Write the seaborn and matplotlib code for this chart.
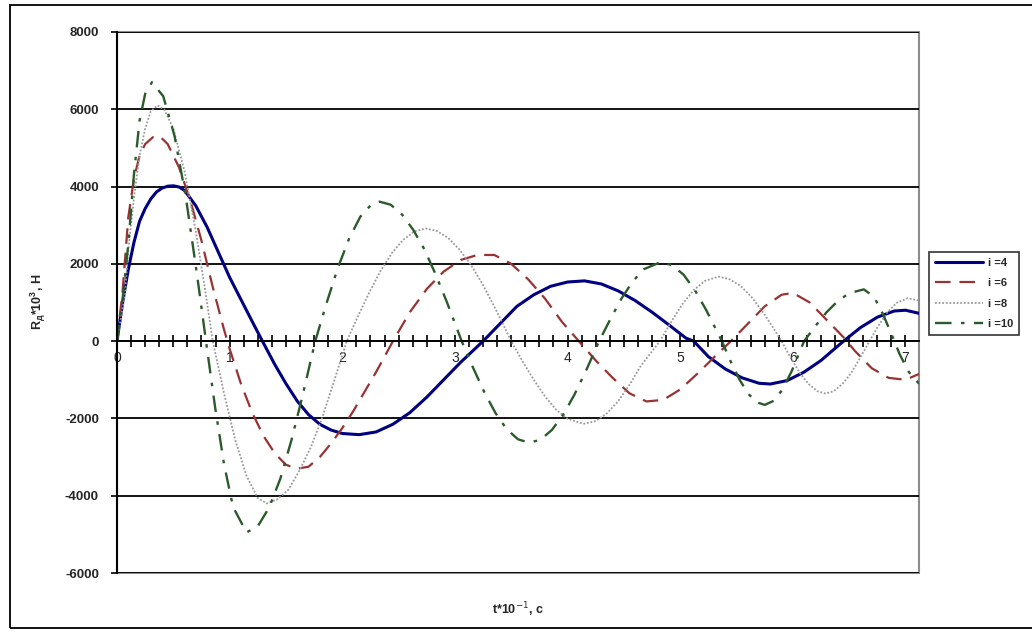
import matplotlib
matplotlib.use("Agg")
import matplotlib.pyplot as plt
from matplotlib.patches import Rectangle
from matplotlib.ticker import MultipleLocator, NullFormatter
import pandas as pd
import seaborn as sns

# values
t4 = [0.00, 0.05, 0.10, 0.15, 0.20, 0.25, 0.30, 0.35, 0.40, 0.45, 0.50, 0.55, 0.60, 0.70, 0.80,
      0.90, 1.00, 1.10, 1.20, 1.30, 1.40, 1.50, 1.60, 1.70, 1.80, 1.90, 2.00, 2.15, 2.30, 2.45,
      2.60, 2.75, 2.90, 3.05, 3.25, 3.40, 3.55, 3.70, 3.85, 4.00, 4.15, 4.30, 4.45, 4.60, 4.75,
      4.90, 5.05, 5.12, 5.25, 5.40, 5.55, 5.70, 5.80, 5.95, 6.10, 6.25, 6.45, 6.60, 6.75, 6.90,
      7.00, 7.12]
r4 = [0, 1000, 1850, 2550, 3100, 3430, 3680, 3860, 3960, 4010, 4020, 3990, 3900, 3500, 2950,
      2300, 1650, 1080, 510, -50, -600, -1100, -1550, -1900, -2150, -2300, -2390, -2420, -2350, -2150,
      -1850, -1450, -1000, -550, 0, 450, 900, 1200, 1420, 1530, 1560, 1480, 1300, 1050, 750,
      420, 80, 0, -400, -720, -950, -1090, -1110, -1020, -800, -500, 0, 350, 620, 780,
      800, 720]

t6 = [0.00, 0.05, 0.10, 0.15, 0.20, 0.25, 0.32, 0.38, 0.45, 0.55, 0.65, 0.75, 0.85, 0.95, 1.00,
      1.10, 1.20, 1.30, 1.40, 1.50, 1.60, 1.70, 1.80, 1.90, 2.00, 2.10, 2.20, 2.30, 2.45, 2.60,
      2.75, 2.90, 3.05, 3.20, 3.35, 3.50, 3.65, 3.80, 3.95, 4.10, 4.25, 4.40, 4.55, 4.70, 4.85,
      5.00, 5.15, 5.30, 5.45, 5.60, 5.75, 5.90, 6.00, 6.15, 6.30, 6.45, 6.55, 6.70, 6.85, 7.00, 7.12]
r6 = [0, 1300, 3200, 4200, 4800, 5100, 5280, 5300, 5100, 4500, 3650, 2600, 1400, 300, -200,
      -1100, -1850, -2450, -2900, -3200, -3300, -3250, -3000, -2650, -2250, -1800, -1300, -800, 0, 750,
      1350, 1800, 2100, 2230, 2230, 2000, 1600, 1100, 500, 0, -500, -950, -1350, -1560, -1520,
      -1250, -850, -420, 0, 450, 900, 1200, 1250, 1000, 550, 100, -250, -700, -950, -1000, -850]

t8 = [0.00, 0.07, 0.10, 0.15, 0.20, 0.25, 0.30, 0.36, 0.42, 0.50, 0.60, 0.70, 0.78, 0.85, 0.95,
      1.05, 1.15, 1.25, 1.33, 1.42, 1.52, 1.62, 1.72, 1.82, 1.92, 2.04, 2.14, 2.24, 2.34, 2.44,
      2.54, 2.64, 2.74, 2.84, 2.94, 3.04, 3.14, 3.24, 3.34, 3.42, 3.50, 3.60, 3.70, 3.80, 3.90,
      4.00, 4.14, 4.25, 4.35, 4.45, 4.55, 4.65, 4.82, 4.92, 5.02, 5.12, 5.22, 5.34, 5.44, 5.54,
      5.64, 5.74, 5.82, 5.90, 5.98, 6.06, 6.14, 6.22, 6.29, 6.36, 6.44, 6.52, 6.60, 6.68, 6.76,
      6.84, 6.92, 7.02, 7.12]
r8 = [0, 1200, 2350, 3700, 4800, 5500, 5950, 6100, 5990, 5500, 4390, 2830, 1370, 0, -1350,
      -2560, -3490, -4060, -4200, -4100, -3850, -3350, -2750, -2000, -1100, 0, 650, 1260, 1820, 2280,
      2620, 2840, 2915, 2850, 2670, 2370, 1990, 1500, 950, 480, 0, -520, -1000, -1430, -1780,
      -2010, -2140, -2070, -1870, -1550, -1130, -640, 0, 500, 960, 1320, 1560, 1670, 1600, 1420,
      1120, 730, 370, 0, -430, -815, -1110, -1300, -1355, -1300, -1110, -815, -420, 0, 400,
      745, 990, 1110, 1050]

t10 = [0.00, 0.05, 0.10, 0.15, 0.20, 0.25, 0.31, 0.41, 0.51, 0.61, 0.71, 0.79, 0.87, 0.95, 1.03,
       1.15, 1.25, 1.35, 1.45, 1.55, 1.65, 1.76, 1.86, 1.96, 2.06, 2.16, 2.26, 2.33, 2.43, 2.53,
       2.63, 2.73, 2.83, 2.93, 3.06, 3.16, 3.26, 3.36, 3.46, 3.56, 3.66, 3.76, 3.86, 3.96, 4.06,
       4.16, 4.28, 4.38, 4.48, 4.58, 4.68, 4.83, 4.93, 5.03, 5.13, 5.23, 5.37, 5.45, 5.53, 5.61,
       5.68, 5.75, 5.83, 5.91, 5.99, 6.10, 6.20, 6.30, 6.40, 6.50, 6.63, 6.72, 6.80, 6.88, 6.95,
       7.03, 7.12]
r10 = [0, 1100, 2500, 4300, 5700, 6400, 6700, 6340, 5320, 3750, 1730, 0, -1690, -3180, -4290,
       -4950, -4790, -4310, -3560, -2550, -1380, 0, 980, 1890, 2650, 3220, 3540, 3610, 3530, 3280,
       2880, 2370, 1720, 1000, 0, -680, -1315, -1860, -2280, -2540, -2630, -2550, -2300, -1910, -1390,
       -790, 0, 570, 1110, 1550, 1865, 2050, 1960, 1720, 1320, 810, 0, -540, -1015, -1380,
       -1580, -1650, -1545, -1245, -775, 0, 390, 750, 1040, 1240, 1340, 1150, 700, 150, -350,
       -800, -1100]

labels = ["i =4", "i =6", "i =8", "i =10"]
y_ticks = [-6000, -4000, -2000, 0, 2000, 4000, 6000, 8000]
x_ticks = [0, 1, 2, 3, 4, 5, 6, 7]

sns.set_style("white")
plt.rcParams['font.family'] = ['Liberation Sans', 'DejaVu Sans']

fig = plt.figure(figsize=(10.32, 6.32), dpi=100)
ax = fig.add_axes([117 / 1032, 1 - 573 / 632, (919 - 117) / 1032, (573 - 32) / 632])

styles = [
    dict(color="#000080", linestyle="-", linewidth=2.2),
    dict(color="#993333", linestyle=(0, (7, 4)), linewidth=1.6),
    dict(color="#9a9a9a", linestyle=(0, (1, 1)), linewidth=1.3),
    dict(color="#2b5a2b", linestyle=(0, (7, 4, 1.5, 4)), linewidth=1.7),
]
series = [(t4, r4), (t6, r6), (t8, r8), (t10, r10)]
for (t, r), lab, st in zip(series, labels, styles):
    df = pd.DataFrame({"t": t, "r": r})
    sns.lineplot(data=df, x="t", y="r", ax=ax, label=lab, sort=False, estimator=None, **st)

ax.set_xlim(0, 7.12)
ax.set_ylim(-6000, 8000)
ax.set_yticks(y_ticks)
ax.set_yticklabels([str(v) for v in y_ticks], fontsize=9.5, fontweight="bold")
ax.set_xticks(x_ticks)
ax.set_xticklabels([str(v) for v in x_ticks], fontsize=9, fontweight="bold")
ax.xaxis.set_minor_locator(MultipleLocator(0.125))
ax.xaxis.set_minor_formatter(NullFormatter())
ax.set_xlabel("")
ax.set_ylabel("")

ax.yaxis.grid(True, color="black", linewidth=1.3)
ax.xaxis.grid(False)
ax.set_axisbelow(True)

for side in ["top", "right"]:
    ax.spines[side].set_visible(False)
ax.spines["bottom"].set_position(("data", 0))
ax.spines["bottom"].set_color("black")
ax.spines["bottom"].set_linewidth(1.3)
ax.spines["left"].set_color("black")
ax.spines["left"].set_linewidth(1.5)
ax.tick_params(axis="y", which="major", left=True, direction="out", length=4, width=1.2,
               color="black", pad=9)
ax.tick_params(axis="x", which="both", bottom=True, direction="inout", length=8, width=1.2,
               color="black", pad=3)

# gray plot-area border
ax.add_patch(Rectangle((0, 0), 1, 1, transform=ax.transAxes, fill=False,
                       edgecolor="#8c8c8c", linewidth=1.5, clip_on=False, zorder=0.5))

fig.text(518 / 1032, 1 - 610 / 632, "t*10$^{-1}$, с", ha="center", va="center",
         fontsize=9, fontweight="bold")
fig.text(38 / 1032, 1 - 302 / 632, "R$_{\\mathregular{д}}$*10$^{\\mathregular{3}}$, Н",
         ha="center", va="center", rotation=90, fontsize=9, fontweight="bold")

leg = ax.legend(loc="upper left", bbox_to_anchor=(929 / 1032, 1 - 252 / 632),
                bbox_transform=fig.transFigure, frameon=True, fancybox=False,
                prop={"size": 8, "weight": "bold"}, handlelength=4.4, labelspacing=0.95,
                borderpad=0.5, handletextpad=0.4, borderaxespad=0)
leg.get_frame().set_edgecolor("black")
leg.get_frame().set_linewidth(1.2)

# outer chart frame
fig.add_artist(Rectangle((10 / 1032, 4 / 632), 1.1, (628 - 5) / 632, transform=fig.transFigure,
                         fill=False, edgecolor="black", linewidth=1.3))

fig.savefig("out.png", dpi=100)
